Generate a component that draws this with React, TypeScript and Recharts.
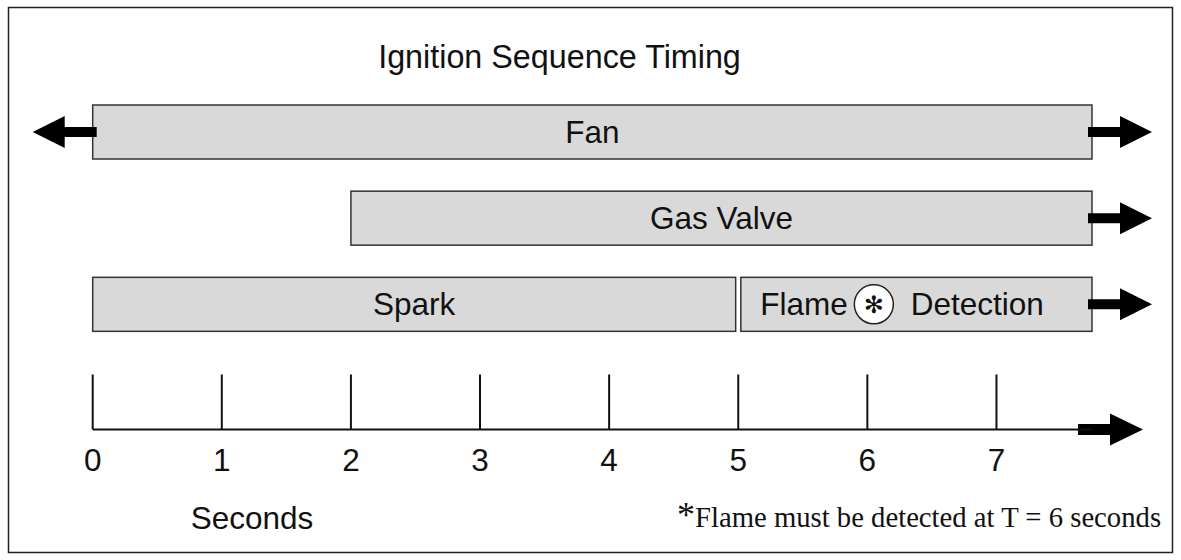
import { Bar, BarChart, ReferenceLine, XAxis, YAxis } from 'recharts';

// one row per swimlane; the last row carries two phases
const rows = ['Fan', 'Gas Valve', 'Spark / Flame'];
const mainLabels = ['Fan', 'Gas Valve', 'Spark'];
const mainStart = [0, 2, 0];
const mainEnd = [7.74, 7.74, 4.98];
const extraLabels = [null, null, 'Flame Detection'];
const extraStart = [null, null, 5.02];
const extraEnd = [null, null, 7.74];
const mainRunsBefore = [true, false, false];
const mainRunsAfter = [true, true, false];
const extraRunsAfter = [false, false, true];
const extraMarked = [false, false, true];

const seconds = [0, 1, 2, 3, 4, 5, 6, 7];
const AXIS_END = 7.74;

const TITLE = 'Ignition Sequence Timing';
const AXIS_TITLE = 'Seconds';
const FOOTNOTE = 'Flame must be detected at T = 6 seconds';

const SANS = '"Liberation Sans", Arial, Helvetica, sans-serif';
const SERIF = '"Liberation Serif", "Times New Roman", serif';
const LABEL_SIZE = 31.5;

const data = rows.map((row, i) => ({
  row,
  main: [mainStart[i], mainEnd[i]],
  extra: extraStart[i] == null ? null : [extraStart[i], extraEnd[i]],
  mainLabel: mainLabels[i],
  extraLabel: extraLabels[i],
  mainRunsBefore: mainRunsBefore[i],
  mainRunsAfter: mainRunsAfter[i],
  extraRunsAfter: extraRunsAfter[i],
  extraMarked: extraMarked[i]
}));

function Arrow({ x, y, dir }: { x: number; y: number; dir: 1 | -1 }) {
  const s0 = x - 4 * dir;
  const s1 = x + 28 * dir;
  const tip = x + 60 * dir;
  return (
    <path
      d={`M${s0},${y - 5} L${s1},${y - 5} L${s1},${y - 16} L${tip},${y} L${s1},${y + 16} L${s1},${y + 5} L${s0},${y + 5} Z`}
      fill="#000"
    />
  );
}

function makePhaseShape(slot: 'main' | 'extra') {
  return (props: any) => {
    const { x, y, width, height, payload } = props;
    if (![x, y, width, height].every(Number.isFinite) || width < 1 || !payload) return <g />;
    const cy = y + height / 2;
    const label: string | null = slot === 'main' ? payload.mainLabel : payload.extraLabel;
    const before = slot === 'main' && payload.mainRunsBefore;
    const after = slot === 'main' ? payload.mainRunsAfter : payload.extraRunsAfter;
    const marked = slot === 'extra' && payload.extraMarked;

    let text = null;
    if (label && marked) {
      const [first, ...rest] = label.split(' ');
      const mx = x + 133;
      text = (
        <g>
          <text x={mx - 26} y={cy + 11} textAnchor="end" fontSize={LABEL_SIZE} fontFamily={SANS} fill="#111">
            {first}
          </text>
          <circle cx={mx} cy={cy} r={19.5} fill="#fff" stroke="#222" strokeWidth={1.5} />
          <text
            x={mx}
            y={cy + 1}
            textAnchor="middle"
            dominantBaseline="central"
            fontSize={24}
            fontFamily='"DejaVu Sans", sans-serif'
            fill="#111"
          >
            ✻
          </text>
          <text x={mx + 37} y={cy + 11} textAnchor="start" fontSize={LABEL_SIZE} fontFamily={SANS} fill="#111">
            {rest.join(' ')}
          </text>
        </g>
      );
    } else if (label) {
      text = (
        <text x={x + width / 2} y={cy + 11} textAnchor="middle" fontSize={LABEL_SIZE} fontFamily={SANS} fill="#111">
          {label}
        </text>
      );
    }

    return (
      <g>
        <rect x={x} y={y} width={width} height={height} fill="#d9d9d9" stroke="#333" strokeWidth={1.5} />
        {text}
        {before && <Arrow x={x} y={cy} dir={-1} />}
        {after && <Arrow x={x + width} y={cy} dir={1} />}
      </g>
    );
  };
}

function SecondTick(props: any) {
  const { x, y, payload } = props;
  return (
    <g>
      <line x1={x} x2={x} y1={y - 55} y2={y} stroke="#111" strokeWidth={2} />
      <text x={x} y={y + 41} textAnchor="middle" fontSize={LABEL_SIZE} fontFamily={SANS} fill="#111">
        {payload.value}
      </text>
    </g>
  );
}

function AxisArrow(props: any) {
  const { x1, y1, y2 } = props;
  const x = Number(x1);
  const y = Math.max(Number(y1), Number(y2));
  if (!Number.isFinite(x) || !Number.isFinite(y)) return <g />;
  const s0 = x - 14;
  const s1 = x + 18;
  const tip = x + 51;
  return (
    <path
      d={`M${s0},${y - 5.5} L${s1},${y - 5.5} L${s1},${y - 16} L${tip},${y} L${s1},${y + 16} L${s1},${y + 5.5} L${s0},${y + 5.5} Z`}
      fill="#000"
    />
  );
}

export default function App() {
  return (
    <div style={{ position: 'absolute', left: 0, top: 0, width: 1181, height: 560, background: '#fff' }}>
      <BarChart
        width={1181}
        height={560}
        data={data}
        layout="vertical"
        barSize={54}
        barGap={-54}
        margin={{ top: 89, right: 89, bottom: 70.5, left: 92.7 }}
      >
        <XAxis
          type="number"
          domain={[0, AXIS_END]}
          ticks={seconds}
          interval={0}
          tickLine={false}
          tickSize={0}
          tickMargin={0}
          axisLine={{ stroke: '#111', strokeWidth: 2 }}
          tick={(p: any) => <SecondTick {...p} />}
          height={60}
        />
        <YAxis type="category" dataKey="row" hide width={0} padding={{ top: 0, bottom: 82 }} />
        <Bar dataKey="main" isAnimationActive={false} shape={makePhaseShape('main')} />
        <Bar dataKey="extra" isAnimationActive={false} shape={makePhaseShape('extra')} />
        <ReferenceLine x={AXIS_END} stroke="none" shape={(p: any) => <AxisArrow {...p} />} />
      </BarChart>
      <svg
        width={1181}
        height={560}
        style={{ position: 'absolute', left: 0, top: 0, pointerEvents: 'none' }}
      >
        <rect x={8.5} y={7.5} width={1164} height={545} fill="none" stroke="#222" strokeWidth={1.5} />
        <text x={559.5} y={68} textAnchor="middle" fontSize={32.3} fontFamily={SANS} fill="#111">
          {TITLE}
        </text>
        <text x={252} y={529} textAnchor="middle" fontSize={LABEL_SIZE} fontFamily={SANS} fill="#111">
          {AXIS_TITLE}
        </text>
        <text x={677} y={527} fontFamily={SERIF} fill="#111">
          <tspan fontSize={36}>*</tspan>
          <tspan fontSize={28.7}>{FOOTNOTE}</tspan>
        </text>
      </svg>
    </div>
  );
}
